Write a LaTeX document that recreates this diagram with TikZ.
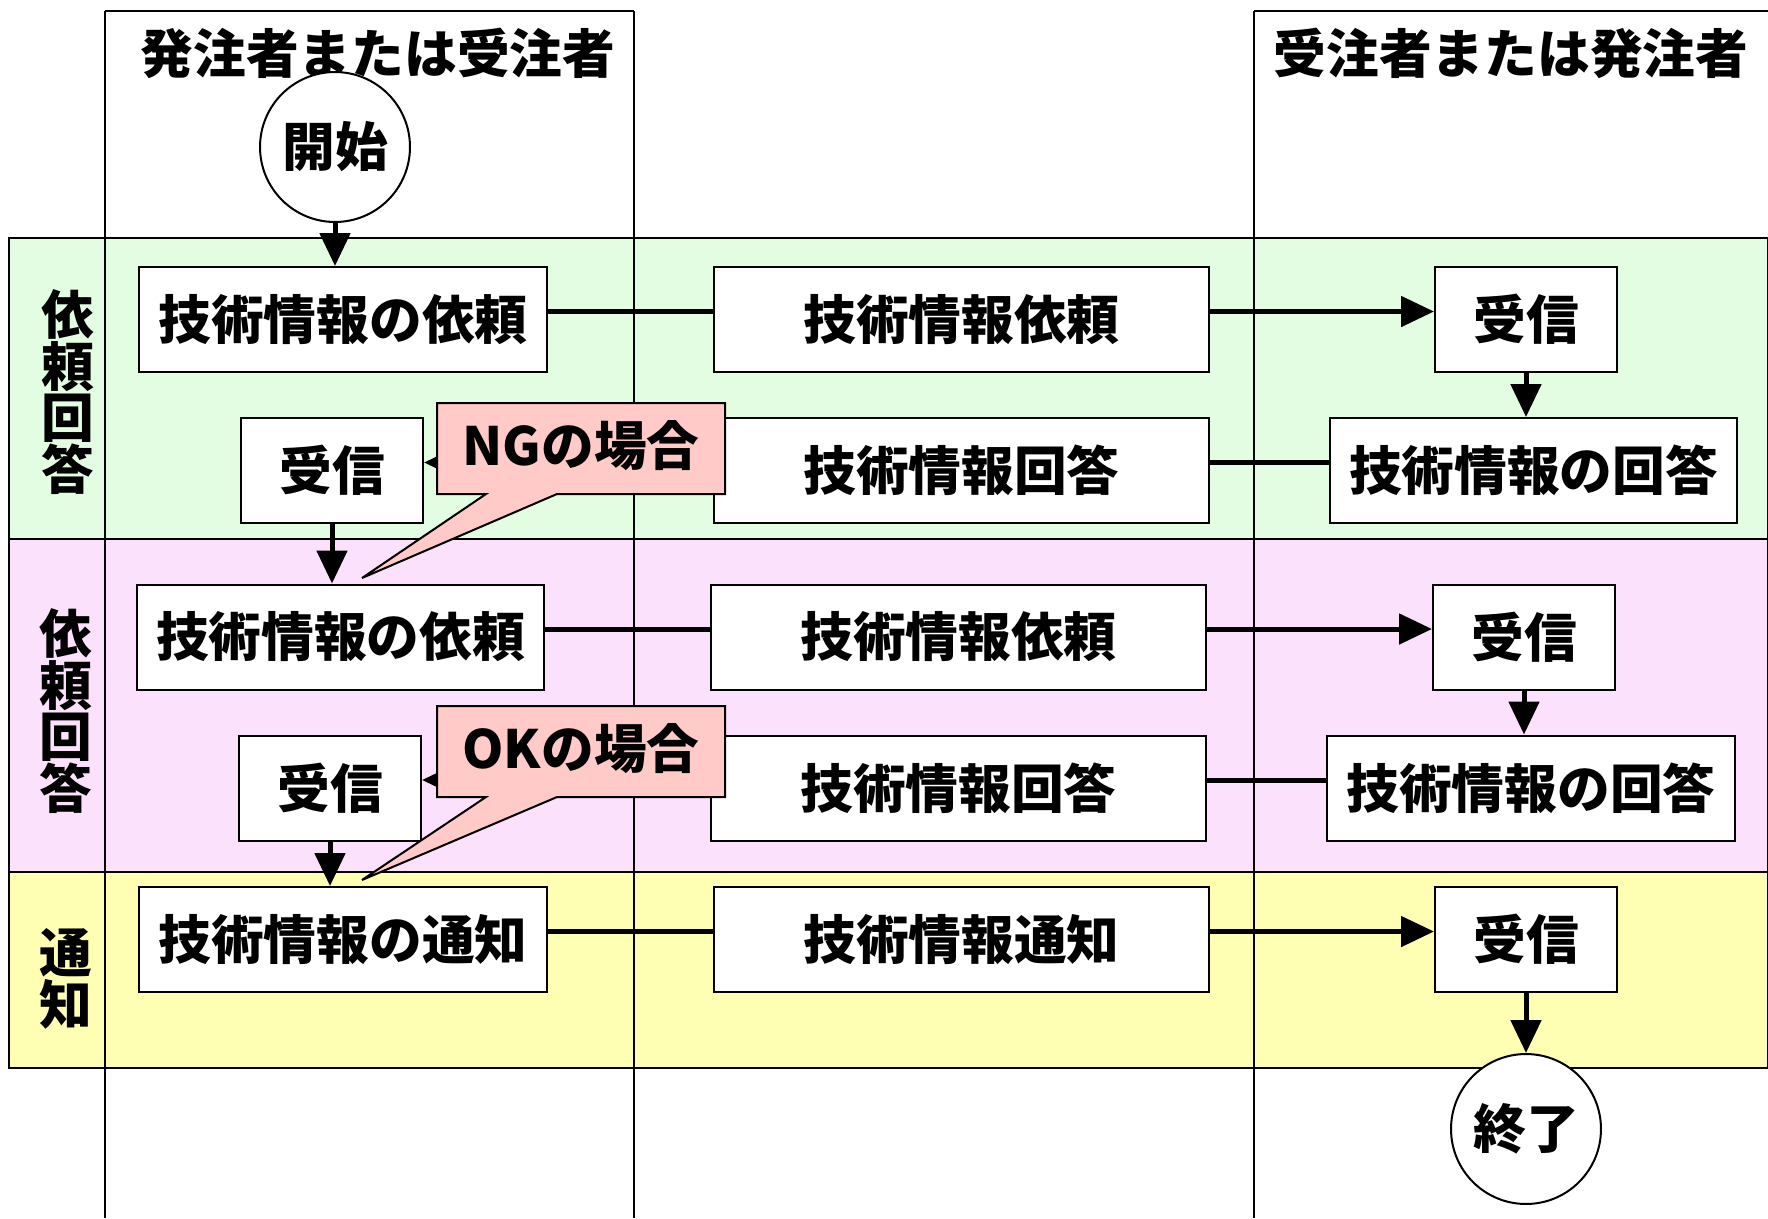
\documentclass[tikz,border=0pt]{standalone}
\usepackage{fontspec}
\usepackage{xcolor}
\usetikzlibrary{arrows.meta}
\newfontfamily\jpfont{Noto Sans CJK JP}

\begin{document}
\begin{tikzpicture}[x=0.02cm,y=-0.02cm,
  txt/.style={font=\jpfont\bfseries\fontsize{30}{29.5}\selectfont},
  stepbox/.style={txt,draw,line width=0.4mm,fill=white,minimum height=21mm,inner sep=0pt},
  wbox/.style={stepbox,minimum width=81.6mm},
  mbox/.style={stepbox,minimum width=99mm},
  sbox/.style={stepbox,minimum width=36.4mm},
  term/.style={txt,circle,draw,line width=0.4mm,fill=white,minimum size=30mm,inner sep=0pt},
  flow/.style={line width=1mm},
  arr/.style={flow,-{Triangle[length=6.6mm,width=6mm]}},
  lane/.style={line width=0.4mm},
  callout/.style={draw,line width=0.4mm,fill=ngpink}]
\definecolor{reqgreen}{HTML}{E2FDE2}
\definecolor{reppink}{HTML}{FCE1FC}
\definecolor{notyellow}{HTML}{FFFFB4}
\definecolor{ngpink}{HTML}{FFCAC8}
\useasboundingbox (0,0) rectangle (1768,1218);
% bands
\draw[lane,fill=reqgreen] (9,238) rectangle (1768,539);
\draw[lane,fill=reppink] (9,539) rectangle (1768,872);
\draw[lane,fill=notyellow] (9,872) rectangle (1768,1068);
% lanes
\foreach \x in {105,634,1254}
  {\draw[lane] (\x,11) -- (\x,1218);}
\draw[lane] (105,11) -- (634,11) (1254,11) -- (1768,11);
\node[txt] (hl) at (378,53) {発注者または受注者};
\node[txt] (hr) at (1511,53) {受注者または発注者};
\node[txt,align=center] (r1) at (68,392) {依\\頼\\回\\答};
\node[txt,align=center] (r2) at (66,711) {依\\頼\\回\\答};
\node[txt,align=center] (r3) at (66,979) {通\\知};
% steps
\node[term] (start) at (335,147) {開始};
\node[wbox] (a1) at (343,319.5) {技術情報の依頼};
\node[mbox] (b1) at (961.5,319.5) {技術情報依頼};
\node[sbox] (c1) at (1526,319.5) {受信};
\node[wbox] (c2) at (1533.5,470.5) {技術情報の回答};
\node[mbox] (b2) at (961.5,470.5) {技術情報回答};
\node[sbox] (a2) at (332,470.5) {受信};
\node[wbox] (a3) at (340.5,637) {技術情報の依頼};
\node[mbox] (b3) at (958.5,637) {技術情報依頼};
\node[sbox] (c3) at (1524,637) {受信};
\node[wbox] (c4) at (1531,788) {技術情報の回答};
\node[mbox] (b4) at (958.5,788) {技術情報回答};
\node[sbox] (a4) at (330,788) {受信};
\node[wbox] (a5) at (343,939.5) {技術情報の通知};
\node[mbox] (b5) at (961.5,939.5) {技術情報通知};
\node[sbox] (c5) at (1526,939.5) {受信};
\node[term] (end) at (1526,1129) {終了};
% flows
\draw[arr] (start) -- (start |- a1.north);
\draw[flow] ([yshift=1.6mm]a1.east) -- ([yshift=1.6mm]b1.west);
\draw[arr] ([yshift=1.6mm]b1.east) -- ([yshift=1.6mm]c1.west);
\draw[arr] (c1) -- (c1 |- c2.north);
\draw[flow] ([yshift=1.6mm]c2.west) -- ([yshift=1.6mm]b2.east);
\draw[arr] ([yshift=1.6mm]b2.west) -- ([yshift=1.6mm]a2.east);
\draw[arr] (a2) -- (a2 |- a3.north);
\draw[flow] ([yshift=1.6mm]a3.east) -- ([yshift=1.6mm]b3.west);
\draw[arr] ([yshift=1.6mm]b3.east) -- ([yshift=1.6mm]c3.west);
\draw[arr] (c3) -- (c3 |- c4.north);
\draw[flow] ([yshift=1.6mm]c4.west) -- ([yshift=1.6mm]b4.east);
\draw[arr] ([yshift=1.6mm]b4.west) -- ([yshift=1.6mm]a4.east);
\draw[arr] (a4) -- (a4 |- a5.north);
\draw[flow] ([yshift=1.6mm]a5.east) -- ([yshift=1.6mm]b5.west);
\draw[arr] ([yshift=1.6mm]b5.east) -- ([yshift=1.6mm]c5.west);
\draw[arr] (c5) -- (c5 |- end.north);
% callouts
\draw[callout] (437,403) -- (725,403) -- (725,494) -- (557,494) -- (362,578) -- (486,494) -- (437,494) -- cycle;
\node[txt] (ng) at (581,446) {NGの場合};
\draw[callout] (437,706) -- (725,706) -- (725,797) -- (557,797) -- (362,880) -- (486,797) -- (437,797) -- cycle;
\node[txt] (ok) at (581,749) {OKの場合};
\end{tikzpicture}
\end{document}
